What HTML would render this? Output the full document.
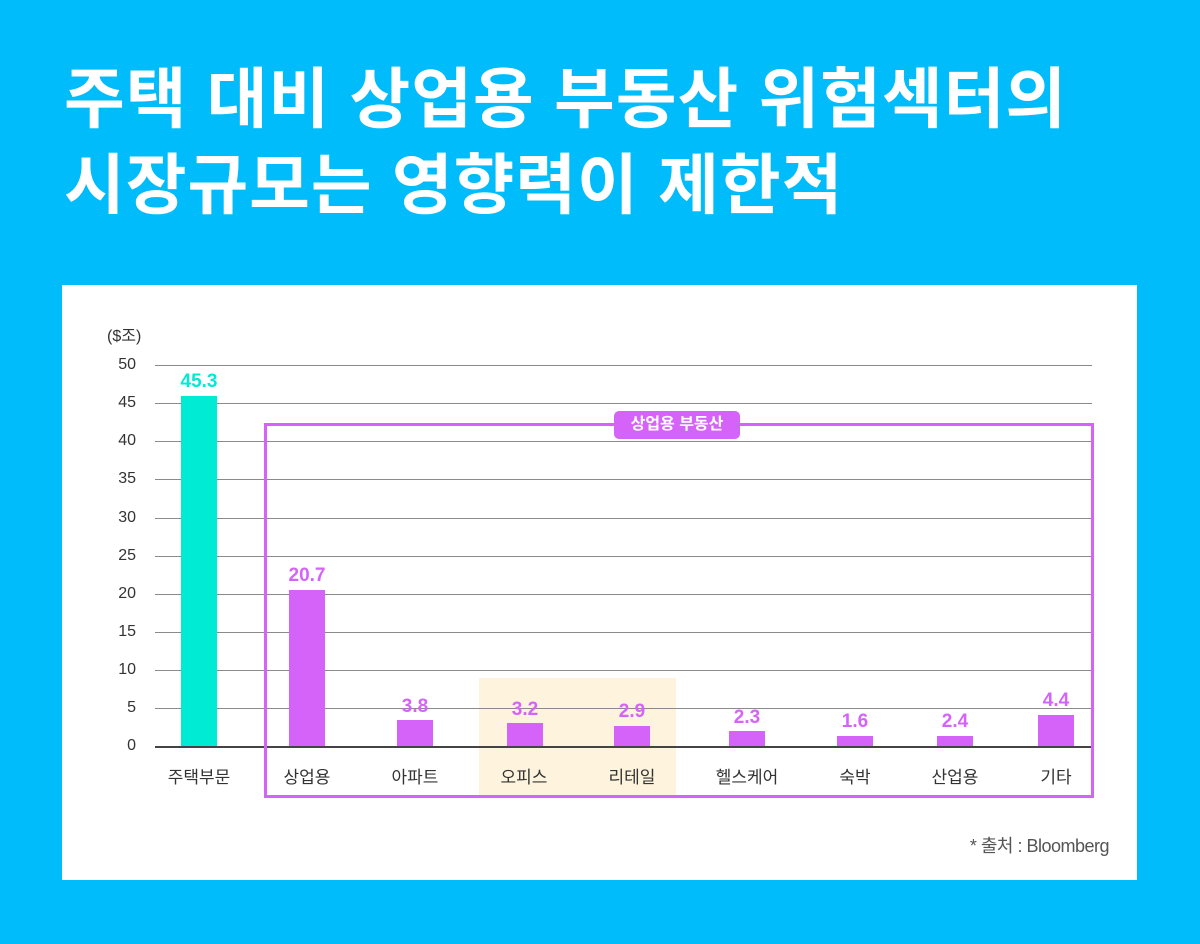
<!DOCTYPE html>
<html><head><meta charset="utf-8"><style>
body{margin:0;width:1200px;height:944px;background:#00BCFA;position:relative;overflow:hidden;font-family:"Liberation Sans","Noto Sans CJK KR",sans-serif}
.a{position:absolute}
.t{color:#fff;font-weight:bold;font-size:66px;left:64px;letter-spacing:1px;line-height:1;white-space:nowrap}
.g{position:absolute;left:155px;width:937px;height:1px;background:#8a8a8a}
.yl{position:absolute;left:100px;width:36px;text-align:right;font-size:16px;color:#333}
.b{position:absolute;background:#D563FA;width:36px}
.v{position:absolute;width:80px;text-align:center;font-size:19px;color:#D563FA;font-weight:bold}
.x{position:absolute;width:110px;text-align:center;font-size:17px;color:#333;top:763px}
</style></head><body>
<div class="a t" style="top:66px">주택 대비 상업용 부동산 위험섹터의</div>
<div class="a t" style="top:152px">시장규모는 영향력이 제한적</div>
<div class="a" style="left:62px;top:285px;width:1075px;height:595px;background:#fff"></div>
<div class="a" style="left:479px;top:678px;width:197px;height:117px;background:#FEF3DC"></div>
<div class="a" style="left:107px;top:322px;font-size:16px;color:#333">($조)</div>
<div class="g" style="top:365px"></div><div class="g" style="top:403px"></div><div class="g" style="top:441px"></div><div class="g" style="top:479px"></div><div class="g" style="top:518px"></div><div class="g" style="top:556px"></div><div class="g" style="top:594px"></div><div class="g" style="top:632px"></div><div class="g" style="top:670px"></div><div class="g" style="top:708px"></div>
<div class="g" style="top:746px;height:2px;background:#444"></div>
<div class="yl" style="top:356px">50</div><div class="yl" style="top:394px">45</div><div class="yl" style="top:432px">40</div><div class="yl" style="top:470px">35</div><div class="yl" style="top:509px">30</div><div class="yl" style="top:547px">25</div><div class="yl" style="top:585px">20</div><div class="yl" style="top:623px">15</div><div class="yl" style="top:661px">10</div><div class="yl" style="top:699px">5</div><div class="yl" style="top:737px">0</div>
<div class="a" style="left:264px;top:423px;width:824px;height:369px;border:3px solid #D563FA"></div>
<div class="a" style="left:614px;top:411px;width:126px;height:28px;background:#D563FA;border-radius:5px;color:#fff;font-size:16px;font-weight:bold;text-align:center;line-height:28px">상업용 부동산</div>
<div class="b" style="left:181px;top:396px;height:350px;background:#00EBD4"></div>
<div class="v" style="left:159px;top:371px;color:#00EBD4">45.3</div>
<div class="b" style="left:289px;top:590px;height:156px"></div><div class="v" style="left:267px;top:565px">20.7</div>
<div class="b" style="left:397px;top:720px;height:26px"></div><div class="v" style="left:375px;top:696px">3.8</div>
<div class="b" style="left:507px;top:723px;height:23px"></div><div class="v" style="left:485px;top:699px">3.2</div>
<div class="b" style="left:614px;top:726px;height:20px"></div><div class="v" style="left:592px;top:701px">2.9</div>
<div class="b" style="left:729px;top:731px;height:15px"></div><div class="v" style="left:707px;top:707px">2.3</div>
<div class="b" style="left:837px;top:736px;height:10px"></div><div class="v" style="left:815px;top:711px">1.6</div>
<div class="b" style="left:937px;top:736px;height:10px"></div><div class="v" style="left:915px;top:711px">2.4</div>
<div class="b" style="left:1038px;top:715px;height:31px"></div><div class="v" style="left:1016px;top:690px">4.4</div>
<div class="x" style="left:144px">주택부문</div><div class="x" style="left:252px">상업용</div><div class="x" style="left:360px">아파트</div><div class="x" style="left:469px">오피스</div><div class="x" style="left:577px">리테일</div><div class="x" style="left:692px">헬스케어</div><div class="x" style="left:800px">숙박</div><div class="x" style="left:900px">산업용</div><div class="x" style="left:1001px">기타</div>
<div class="a" style="right:91px;top:832px;font-size:18px;color:#555;letter-spacing:-0.5px">* 출처 : Bloomberg</div>
</body></html>
